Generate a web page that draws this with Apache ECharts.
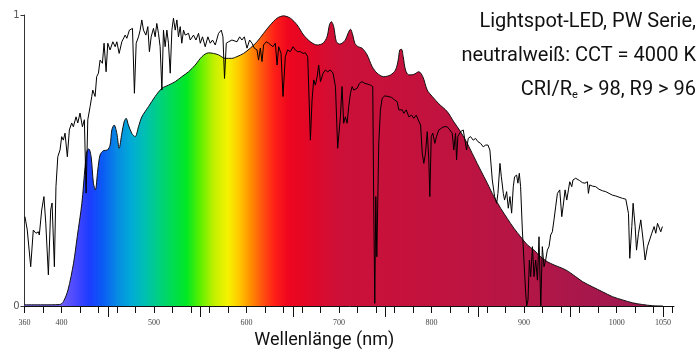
<!DOCTYPE html>
<html>
<head>
<meta charset="utf-8">
<title>Lightspot-LED Spektrum</title>
<script src="https://cdn.jsdelivr.net/npm/echarts@6/dist/echarts.min.js"></script>
<style>
  html, body { margin: 0; padding: 0; background: #fff; }
  #chart { width: 699px; height: 352px; }
</style>
</head>
<body>
<div id="chart"></div>
<script>
// LED spectrum (relative)
const ledWl = [360, 380, 398, 402, 407, 413, 417, 422, 425.5, 427.3, 429.5, 432, 434.5, 436.6, 439.2, 441.7, 445.3, 449.6,
  452.5, 454.4, 456.9, 459.8, 462.3, 465.2, 467.7, 469.8, 472.3, 476, 479.6, 483.2, 486.8, 494, 501.2, 508.5, 515.6, 522.9,
  530, 537.3, 544.5, 551.8, 558.9, 564.3, 569.7, 577, 584, 589.7, 596.8, 604, 611.3, 618.4, 625.7, 633, 640, 647.3, 654.6,
  661.7, 669, 676.3, 682.7, 687, 689.6, 691.7, 694.2, 697.1, 700.7, 703.2, 706.8, 709.7, 712.3, 714.8, 717, 720.6, 724.9,
  730.3, 735.7, 741.1, 748.3, 755.6, 761, 763.9, 765.6, 767.5, 769.3, 771.8, 775.4, 780.8, 786.2, 790.5, 795.3, 800.7,
  807.8, 816.9, 824, 831.3, 838.5, 845.7, 852.9, 860.2, 867.3, 874.6, 881.8, 889, 896.2, 903.5, 910.7, 918, 925.2, 932.4,
  945, 955.7, 963, 973.8, 984.7, 995.5, 1006.3, 1017.1, 1027.9, 1038.7, 1050];
const ledVal = [0.004, 0.004, 0.005, 0.015, 0.055, 0.147, 0.238, 0.353, 0.479, 0.53, 0.54, 0.513, 0.422, 0.399, 0.467, 0.519, 0.534, 0.536,
  0.553, 0.605, 0.622, 0.593, 0.542, 0.593, 0.633, 0.645, 0.622, 0.593, 0.582, 0.616, 0.65, 0.685, 0.72, 0.748, 0.759, 0.771,
  0.788, 0.805, 0.828, 0.857, 0.87, 0.868, 0.863, 0.851, 0.851, 0.857, 0.868, 0.886, 0.908, 0.937, 0.966, 0.989, 0.997, 0.989, 0.966,
  0.931, 0.908, 0.897, 0.903, 0.925, 0.966, 0.977, 0.96, 0.908, 0.9, 0.903, 0.914, 0.937, 0.951, 0.931, 0.903, 0.891, 0.886,
  0.863, 0.823, 0.8, 0.788, 0.794, 0.811, 0.845, 0.88, 0.882, 0.857, 0.811, 0.794, 0.796, 0.805, 0.788, 0.742, 0.72,
  0.695, 0.668, 0.633, 0.599, 0.559, 0.513, 0.467, 0.422, 0.376, 0.336, 0.301, 0.267, 0.238, 0.21, 0.192, 0.169, 0.152, 0.141,
  0.124, 0.101, 0.084, 0.066, 0.049, 0.032, 0.021, 0.011, 0.005, 0.001, 0];

// sunlight reference spectrum (relative)
const sunWl = [360.5, 363, 366.7, 369.5, 372.4, 375, 376, 378.6, 381, 383, 385.8, 388.3, 389.8, 392.3, 394, 396, 398.4, 400.2,
  402, 403.8, 406.3, 408.5, 411, 412.8, 415.7, 417.6, 420, 422.6, 424.7, 426.6, 428.4, 430.9, 432.7, 433.8, 436.3, 438,
  439.9, 441.7, 444.2, 446, 448.2, 450, 452.5, 455.5, 458, 459.8, 462.3, 465.2, 468.8, 470.6, 473.4, 476.7, 478.8, 480.7,
  483.2, 485, 486.8, 488.6, 491.2, 493.3, 495, 496.9, 499.4, 501.2, 503, 504.8, 506.6, 508.5, 510.2, 512, 513.9, 515.6,
  517.5, 519.3, 521, 522.9, 524.7, 526.4, 528.3, 530, 531.9, 533.7, 537.3, 539.1, 542.7, 545.3, 548.1, 550, 552.4, 555.3,
  558.2, 560.8, 563.2, 566.2, 569.7, 572.7, 574.5, 576.2, 578.1, 580.6, 584.2, 586, 589.7, 592.5, 595, 597.6, 600.5, 603.3,
  605.9, 608.4, 611.3, 613, 614.9, 616.7, 618.4, 621.4, 623.9, 625.7, 628.6, 631.1, 633, 634.7, 637.3, 639.4, 641.9, 644.4,
  647.3, 650.3, 652.7, 655.2, 658.2, 661.1, 663.6, 666.1, 668.2, 669, 670.8, 672.6, 674.4, 676.3, 678, 679.9, 682.7, 685.2,
  687.7, 690.6, 693.5, 696.1, 698.5, 701.4, 703.2, 705, 706.8, 708.7, 710.4, 712.3, 714.1, 715.9, 717.7, 719.5, 722, 724.9,
  727.7, 730.3, 733.9, 736.4, 737.5, 738.6, 739.7, 740.8, 742.9, 744.7, 746.6, 749.4, 753.1, 756.6, 760.2, 762.8, 764.6,
  766.4, 768.3, 770, 772.6, 775.4, 778.3, 780.8, 783.4, 785.6, 788.1, 789.9, 791.6, 793.4, 795.3, 797, 798.1, 799.6, 801.3,
  803.5, 805.3, 807.8, 810.7, 813.2, 816.9, 819.7, 822.3, 824, 825.9, 827, 828.4, 831.3, 834.2, 835.6, 837.8, 839.6, 842.1,
  845, 847.5, 850, 852.9, 855.8, 858.4, 860.9, 863, 865.6, 868.1, 870.3, 871.7, 873.9, 875.4, 877.5, 878.9, 881.1, 882.9,
  884.7, 886.5, 888.3, 889.7, 891.9, 893.3, 894.8, 896.2, 898.1, 899.8, 901.7, 902.8, 904.2, 905.7, 907.1, 909, 910.7, 912.5,
  914.4, 916.1, 918, 919.7, 921.5, 923.3, 925.1, 926.9, 928.7, 930.5, 932.3, 934.1, 936, 938.5, 940.7, 942.1, 944.3, 946.1,
  947.9, 949.3, 951.5, 952.8, 955.7, 957.5, 960, 962.9, 965.8, 968.4, 969.5, 970.9, 973.8, 977.4, 981, 984.7, 988.2, 991.8,
  995.5, 999.1, 1002.6, 1006.3, 1009.9, 1011.7, 1012.8, 1014.2, 1016.4, 1017.8, 1020, 1021.5, 1023.6, 1026.1, 1028.6,
  1030.8, 1033.3, 1035.1, 1038, 1040.5, 1042.3, 1044.2, 1045.9, 1047.7, 1049.5];
const sunVal = [0.307, 0.261, 0.135, 0.261, 0.25, 0.255, 0.244, 0.33, 0.376, 0.285, 0.107, 0.33, 0.354, 0.135, 0.41, 0.513, 0.536, 0.582,
  0.57, 0.594, 0.513, 0.605, 0.629, 0.616, 0.65, 0.629, 0.663, 0.616, 0.64, 0.388, 0.64, 0.685, 0.72, 0.742, 0.72, 0.788,
  0.8, 0.845, 0.834, 0.903, 0.805, 0.903, 0.88, 0.908, 0.891, 0.908, 0.868, 0.908, 0.931, 0.92, 0.948, 0.954, 0.731, 0.903,
  0.925, 0.948, 0.983, 0.948, 0.931, 0.96, 0.874, 0.925, 0.954, 0.925, 0.971, 0.937, 0.891, 0.742, 0.948, 0.891, 0.948, 0.903,
  0.8, 0.948, 0.989, 0.948, 0.983, 0.925, 0.96, 0.903, 0.948, 0.931, 0.937, 0.914, 0.931, 0.914, 0.937, 0.903, 0.925, 0.891,
  0.925, 0.903, 0.914, 0.897, 0.937, 0.948, 0.925, 0.782, 0.903, 0.908, 0.914, 0.914, 0.908, 0.925, 0.914, 0.925, 0.886, 0.914,
  0.903, 0.886, 0.88, 0.845, 0.886, 0.84, 0.897, 0.908, 0.903, 0.908, 0.891, 0.903, 0.828, 0.891, 0.868, 0.72, 0.857, 0.88,
  0.874, 0.891, 0.88, 0.874, 0.874, 0.868, 0.87, 0.857, 0.851, 0.57, 0.708, 0.777, 0.759, 0.788, 0.828, 0.771, 0.8, 0.811,
  0.805, 0.811, 0.8, 0.754, 0.542, 0.65, 0.754, 0.628, 0.65, 0.628, 0.685, 0.731, 0.754, 0.742, 0.737, 0.748, 0.765, 0.771,
  0.765, 0.763, 0.759, 0.754, 0.33, 0.009, 0.376, 0.169, 0.559, 0.674, 0.714, 0.722, 0.72, 0.717, 0.708, 0.702, 0.674,
  0.668, 0.674, 0.662, 0.674, 0.65, 0.656, 0.645, 0.656, 0.639, 0.622, 0.525, 0.49, 0.525, 0.599, 0.502, 0.376, 0.582, 0.594,
  0.559, 0.582, 0.605, 0.611, 0.616, 0.616, 0.605, 0.594, 0.536, 0.594, 0.502, 0.582, 0.599, 0.605, 0.599, 0.536, 0.576, 0.582,
  0.57, 0.576, 0.565, 0.559, 0.547, 0.553, 0.553, 0.536, 0.433, 0.376, 0.353, 0.387, 0.49, 0.444, 0.387, 0.364, 0.393, 0.336,
  0.376, 0.319, 0.41, 0.444, 0.45, 0.422, 0.456, 0.41, 0.261, 0.158, 0.044, 0.0, 0.021, 0.158, 0.101, 0.204, 0.101, 0.158,
  0.089, 0.238, 0.0, 0.204, 0.135, 0.158, 0.192, 0.204, 0.244, 0.255, 0.296, 0.341, 0.387, 0.399, 0.307, 0.341, 0.399, 0.364,
  0.399, 0.427, 0.41, 0.433, 0.439, 0.433, 0.431, 0.424, 0.422, 0.427, 0.387, 0.416, 0.412, 0.41, 0.401, 0.396, 0.393, 0.387,
  0.381, 0.378, 0.374, 0.37, 0.367, 0.364, 0.318, 0.164, 0.273, 0.353, 0.273, 0.192, 0.25, 0.296, 0.227,
  0.158, 0.204, 0.21, 0.25, 0.273, 0.25, 0.284, 0.29, 0.255, 0.273];

// axis ticks and labels
const xMin = 360;
const xMax = 1062;
const xLabelValues = [360, 400, 500, 600, 700, 800, 900, 1000, 1050];
const xMinorTicks = [];
for (let w = 360; w <= 1060; w += 20) xMinorTicks.push(w);
const xMajorTicks = [450, 550, 650, 750, 850, 950, 1050];

// wavelength -> colour used for the filled spectrum
const colorWl = [360, 400, 415, 430, 445, 460, 475, 490, 505, 520, 535, 550, 565, 580, 592, 605, 618, 630, 645, 670, 700, 800, 900, 1000, 1050];
const colorHex = ['#7c6cf2', '#6e5ef8', '#4a48ff', '#1c3cff', '#0a5cf4', '#078ae4', '#00aad6', '#00c0b2', '#00d082', '#00dc52',
  '#00e824', '#5ef000', '#c2f000', '#f6f200', '#ffc800', '#ff8c00', '#ff5010', '#ff2018', '#ee061e', '#e00828', '#cc1038',
  '#c2123e', '#b41646', '#a2184e', '#9a1a50'];

const chart = echarts.init(document.getElementById('chart'));

const ledData = ledWl.map((w, i) => [w, ledVal[i]]);
const sunData = sunWl.map((w, i) => [w, sunVal[i]]);
const spanLo = ledWl[0];
const spanHi = ledWl[ledWl.length - 1];
const stops = colorWl.map((w, i) => ({ offset: (w - spanLo) / (spanHi - spanLo), color: colorHex[i] }));

const option = {
  animation: false,
  backgroundColor: '#fff',
  grid: { left: 24.5, right: 25, top: 15, bottom: 46, outerBoundsMode: 'none' },
  graphic: [
    {
      type: 'text',
      x: 696,
      y: 5,
      z: 10,
      style: {
        text: 'Lightspot-LED, PW Serie,\nneutralweiß: CCT = 4000 K\nCRI/R{sub|e} > 98, R9 > 96',
        align: 'right',
        verticalAlign: 'top',
        fontFamily: 'Roboto',
        fontSize: 20,
        fill: '#111',
        lineHeight: 34,
        rich: {
          sub: { fontFamily: 'Roboto', fontSize: 11, fill: '#111', lineHeight: 34, padding: [10, 0, 0, 0] }
        }
      }
    }
  ],
  xAxis: [
    {
      type: 'value',
      min: xMin,
      max: xMax,
      name: 'Wellenlänge (nm)',
      nameLocation: 'middle',
      nameGap: 24,
      nameTextStyle: { fontFamily: 'Roboto', fontSize: 18, color: '#111', padding: [0, 50, 0, 0] },
      axisLine: { show: true, lineStyle: { color: '#111', width: 1 } },
      axisTick: { show: true, customValues: xMinorTicks, length: 7, lineStyle: { color: '#111', width: 1 } },
      axisLabel: {
        customValues: xLabelValues,
        formatter: (v) => String(v),
        margin: 13,
        fontFamily: 'Liberation Serif',
        fontSize: 8,
        color: '#444'
      },
      splitLine: { show: false }
    },
    {
      type: 'value',
      min: xMin,
      max: xMax,
      position: 'bottom',
      axisLine: { show: false },
      axisTick: { show: true, customValues: xMajorTicks, length: 11, lineStyle: { color: '#111', width: 1 } },
      axisLabel: { show: false },
      splitLine: { show: false }
    }
  ],
  yAxis: {
    type: 'value',
    min: 0,
    max: 1,
    interval: 1,
    axisLine: { show: true, lineStyle: { color: '#333', width: 1 } },
    axisTick: { show: true, length: 4, lineStyle: { color: '#333' } },
    axisLabel: { margin: 5, fontFamily: 'DejaVu Sans', fontSize: 10, color: '#555' },
    splitLine: { show: false }
  },
  series: [
    {
      name: 'LED',
      type: 'line',
      xAxisIndex: 0,
      data: ledData,
      smooth: 0.3,
      showSymbol: false,
      lineStyle: { color: '#111', width: 1 },
      areaStyle: {
        opacity: 1,
        color: { type: 'linear', x: 0, y: 0, x2: 1, y2: 0, colorStops: stops }
      },
      z: 2
    },
    {
      name: 'Sonne',
      type: 'line',
      xAxisIndex: 0,
      data: sunData,
      showSymbol: false,
      lineStyle: { color: '#000', width: 1 },
      z: 3
    }
  ]
};

chart.setOption(option);
window.addEventListener('resize', () => chart.resize());
</script>
</body>
</html>
